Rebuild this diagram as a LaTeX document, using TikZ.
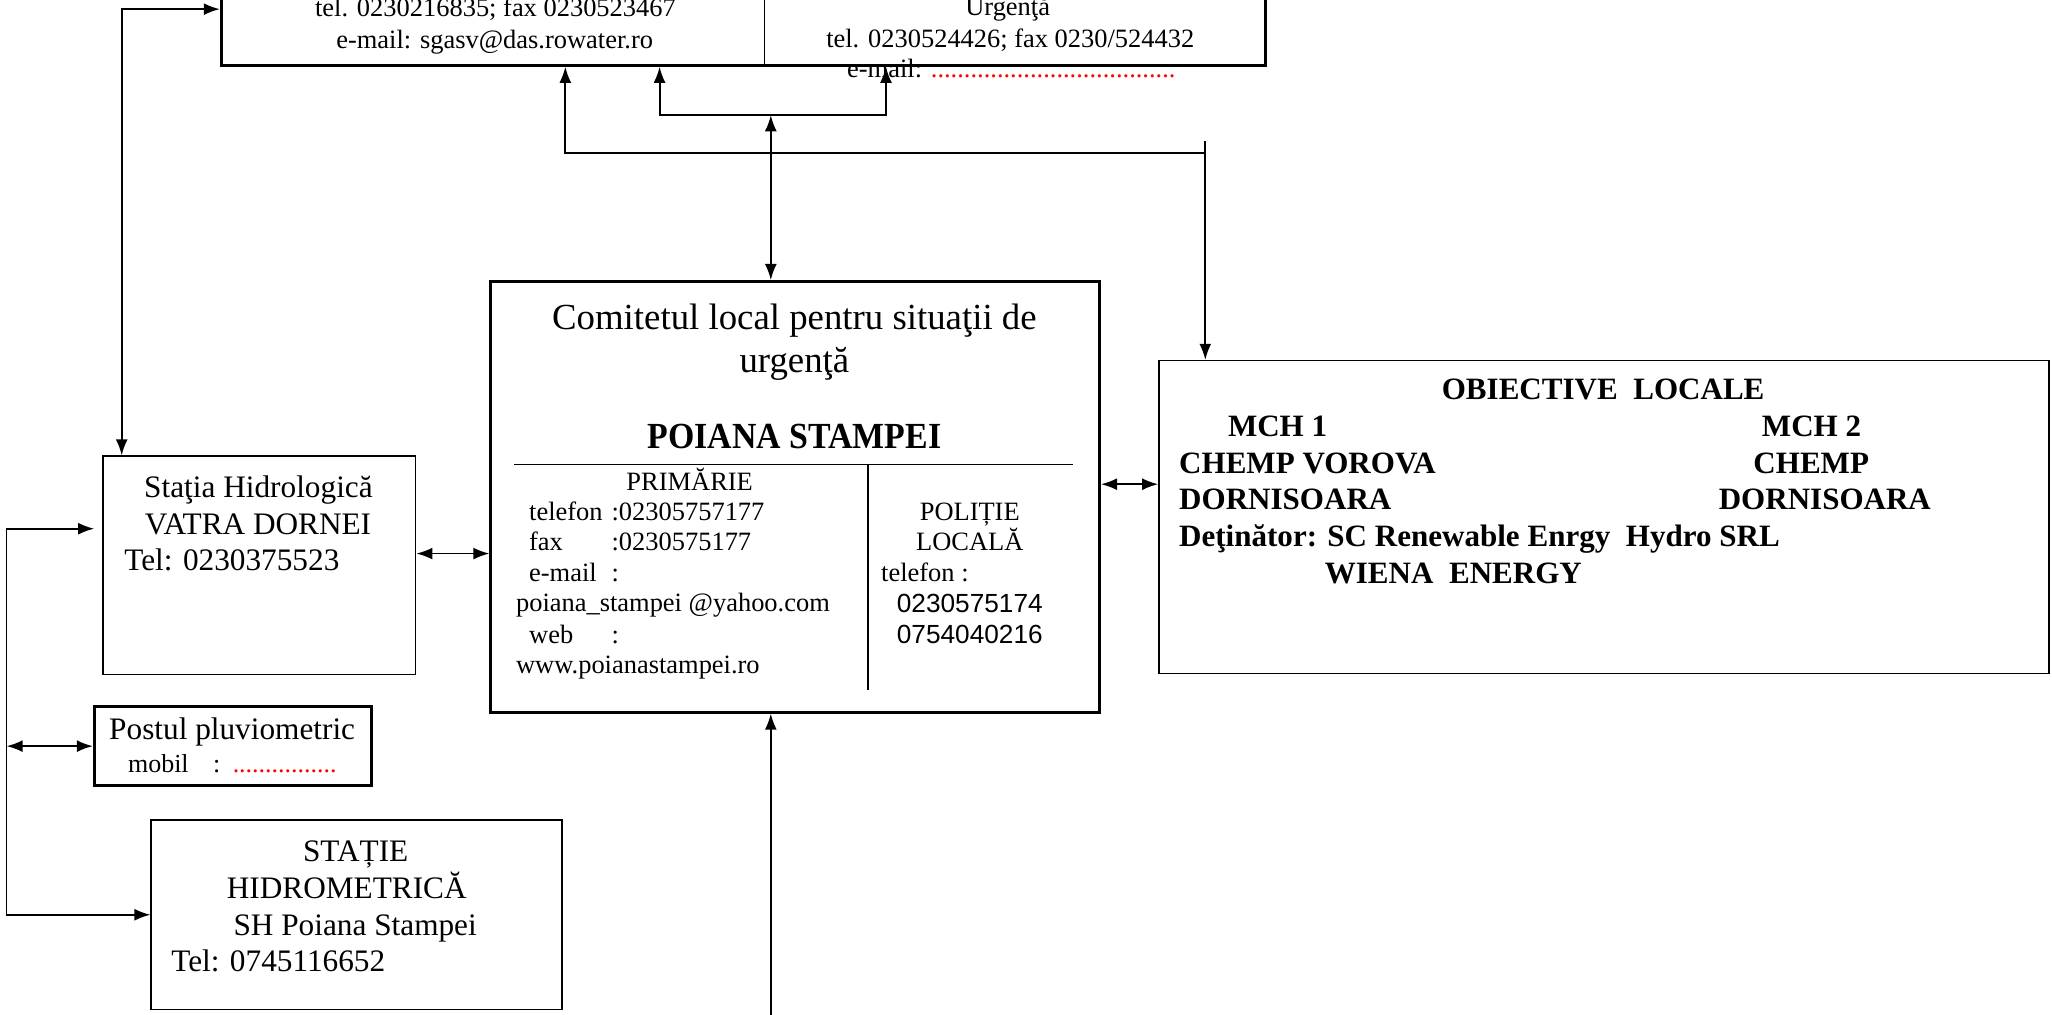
\documentclass[tikz,border=0pt]{standalone}
\usepackage{fontspec}
\setmainfont{Liberation Serif}
\newfontfamily\arialfont{Liberation Sans}
\newfontfamily\titlufont[FakeStretch=0.92]{Liberation Serif}
\usetikzlibrary{arrows.meta, calc}

\begin{document}
\begin{tikzpicture}[x=0.2mm, y=-0.2mm,
	box/.style={draw, line width=0.65pt, inner sep=0pt, anchor=north west},
	thickbox/.style={box, line width=1.3pt},
	link/.style={line width=0.8pt, >={Latex[length=7pt, width=5.2pt]}},
	txt/.style={inner sep=0pt, anchor=base west},
	mid/.style={inner sep=0pt, anchor=base}]
	\def \pas {0.2mm}
	\def \mic {\fontsize{11.5}{13}\selectfont}
	\def \mare {\fontsize{13.6}{15.5}\selectfont}
	\def \gros {\fontsize{13.5}{15.5}\selectfont\bfseries}

	\useasboundingbox (0,0) rectangle (1568,775);
	\clip (0,0) rectangle (1568,775);

	% casete
	\node[thickbox, anchor=south west, minimum width=798*\pas, minimum height=140*\pas] (sus) at (168,51) {};
	\node[thickbox, minimum width=465*\pas, minimum height=329*\pas] (comitet) at (374,214) {};
	\node[box, minimum width=239*\pas, minimum height=167*\pas] (statia) at (78,348) {};
	\node[thickbox, minimum width=212*\pas, minimum height=60*\pas] (postul) at (71,539) {};
	\node[box, minimum width=314*\pas, minimum height=145*\pas] (hidrometrica) at (115,626) {};
	\node[box, minimum width=680*\pas, minimum height=239*\pas] (obiective) at (885,275) {};

	\draw[line width=0.65pt] (584,-100) -- (584,51);
	\draw[line width=0.8pt] (393,355) -- (820,355);
	\draw[line width=0.8pt] (663,355) -- (663,527);

	% sus
	\node[mid] (sgatel) at (378.6,12.7) {\mic tel. 0230216835; fax 0230523467};
	\node[mid] (sgamail) at (378,36.9) {\mic e-mail: sgasv@das.rowater.ro};
	\node[mid] (isu) at (770,12.2) {\mic Urgenţă};
	\node[mid] (isutel) at (772,36.4) {\mic tel. 0230524426; fax 0230/524432};
	\node[txt] (isumail) at (647,59)
		{\mic e-mail: \textcolor{red}{.....................................}};

	% comitet
	\node[mid] (titlu1) at (607,252)
		{\fontsize{16}{18}\selectfont Comitetul local pentru situaţii de};
	\node[mid] (titlu2) at (607,285) {\fontsize{16}{18}\selectfont urgenţă};
	\node[mid] (localitate) at (607,342.6)
		{\titlufont\bfseries\fontsize{16}{18}\selectfont POIANA STAMPEI};
	\node[mid] (primarie) at (527,375) {\mic PRIMĂRIE};
	\foreach \i/\y/\eticheta/\valoare in {1/398/telefon/{:02305757177}, 2/421/fax/{:0230575177},
		3/444.5/e-mail/{:}, 4/491.5/web/{:}} {
		\node[txt] (eticheta\i) at (404,\y) {\mic \eticheta};
		\node[txt] (valoare\i) at (467,\y) {\mic \valoare};
	}
	\node[txt] (mail) at (394,467) {\mic poiana\_stampei @yahoo.com};
	\node[txt] (web) at (394,514.5) {\mic www.poianastampei.ro};
	\node[mid] (politie) at (741,398) {\mic POLIȚIE};
	\node[mid] (locala) at (741,421) {\mic LOCALĂ};
	\node[txt] (politietel) at (673,444.5) {\mic telefon :};
	\node[txt] (nr1) at (685,468) {\arialfont\fontsize{11.4}{13}\selectfont 0230575174};
	\node[txt] (nr2) at (685,491.5) {\arialfont\fontsize{11.4}{13}\selectfont 0754040216};

	% statia
	\node[mid] (statia1) at (197.5,380) {\mare Staţia Hidrologică};
	\node[mid] (statia2) at (197.2,408.3) {\mare VATRA DORNEI};
	\node[txt] (statia3) at (94.7,435.7) {\mare Tel: 0230375523};

	% postul
	\node[mid] (postul1) at (177.4,565.2) {\mare Postul pluviometric};
	\node[txt] (postul2) at (97.5,590) {\fontsize{11.3}{13}\selectfont mobil};
	\node[txt] (postul3) at (162.5,590) {\fontsize{11.3}{13}\selectfont :};
	\node[txt] (postul4) at (177.5,590) {\fontsize{11.3}{13}\selectfont\color{red}................};

	% hidrometrica
	\node[mid] (hidro1) at (271.8,658.5) {\mare STAȚIE};
	\node[mid] (hidro2) at (265,686.7) {\mare HIDROMETRICĂ};
	\node[mid] (hidro3) at (271.4,715) {\mare SH Poiana Stampei};
	\node[txt] (hidro4) at (130.6,742.7) {\mare Tel: 0745116652};

	% obiective
	\node[mid] (obtitlu) at (1225,305.6) {\gros OBIECTIVE\ \ LOCALE};
	\node[txt] (mch1) at (938,333.7) {\gros MCH 1};
	\node[txt] (mch2) at (1346,333.7) {\gros MCH 2};
	\node[txt] (chemp1) at (900.7,361.7) {\gros CHEMP VOROVA};
	\node[txt] (chemp2) at (1339.5,361.7) {\gros CHEMP};
	\node[txt] (dorn1) at (900.7,389.7) {\gros DORNISOARA};
	\node[txt] (dorn2) at (1313,389.7) {\gros DORNISOARA};
	\node[txt] (detinator) at (900.7,417.7) {\gros Deţinător: SC Renewable Enrgy\ \ Hydro SRL};
	\node[txt] (wiena) at (1012,445.7) {\gros WIENA\ \ ENERGY};

	% legaturi
	\coordinate (cotsus) at (93,7);
	\coordinate (bara) at (504,88);
	\coordinate (bara2) at (677,88);
	\coordinate (ramificatie) at (589,88);
	\coordinate (cot) at (432,117);
	\coordinate (cot2) at (921,117);
	\coordinate (magistrala) at (5,404);
	\coordinate (magjos) at (5,699);
	\coordinate (legatura) at (345,423);
	\coordinate (legatura2) at (862,370);
	\coordinate (jos) at (589,790);

	\draw[link, <->] (statia.north -| cotsus) -- (cotsus) -- (sus.west |- cotsus);
	\draw[link, <->] (sus.south -| bara) -- (bara) -- (bara2) -- (sus.south -| bara2);
	\draw[link, <->] (ramificatie) -- (comitet.north -| ramificatie);
	\draw[link, <->] (sus.south -| cot) -- (cot) -- (cot2) -- (obiective.north -| cot2);
	\draw[link] (cot2) -- ++(0,-9);
	\draw[link, <->, shorten <=1.2mm] (statia.west |- magistrala) -- (magistrala)
		-- (magjos) -- (hidrometrica.west |- magjos);
	\draw[link, <->] (magistrala |- postul.west) -- (postul.west);
	\draw[link, <->] (statia.east |- legatura) -- (comitet.west |- legatura);
	\draw[link, <->] (comitet.east |- legatura2) -- (obiective.west |- legatura2);
	\draw[link, ->] (jos) -- (comitet.south -| jos);
\end{tikzpicture}
\end{document}
